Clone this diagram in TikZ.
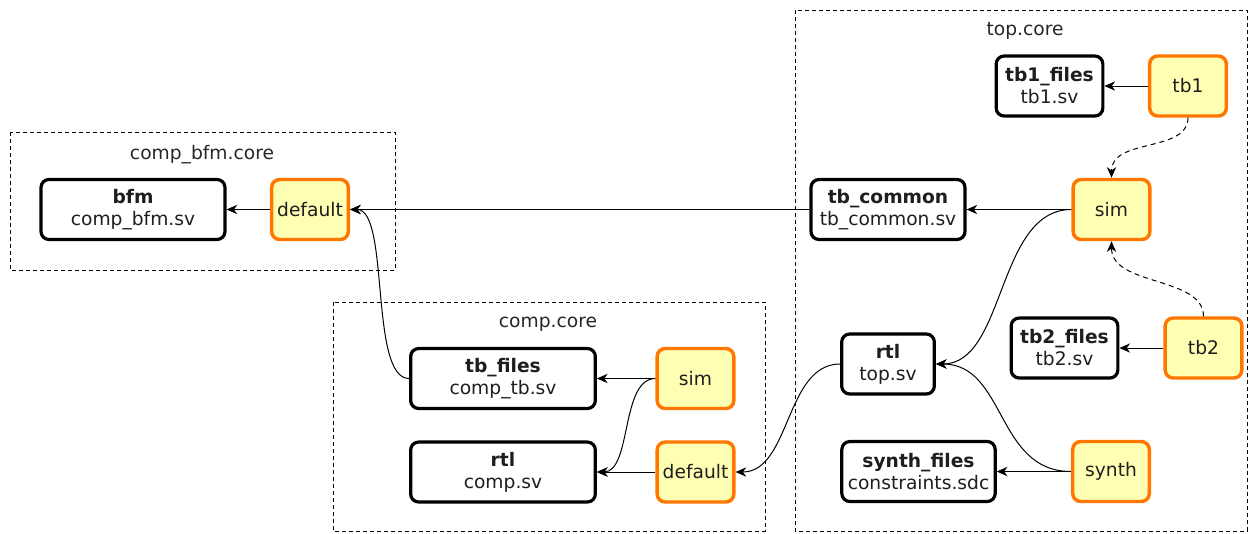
\documentclass[tikz,border=0pt]{standalone}
\usepackage{fontspec}
\setmainfont{DejaVu Sans}
\usetikzlibrary{arrows.meta}
\definecolor{orng}{RGB}{255,119,0}
\definecolor{ylw}{RGB}{255,255,180}
\definecolor{txt}{RGB}{30,30,30}
\tikzset{
 filebox/.style={draw=black, line width=2.4pt, rounded corners=6pt, fill=white, minimum height=45pt, align=center, inner sep=2pt, text=txt, font=\fontsize{14}{16.5}\selectfont},
 tgtbox/.style={draw=orng, fill=ylw, line width=2.6pt, rounded corners=6pt, minimum height=45pt, minimum width=57.5pt, inner sep=2pt, text=txt, font=\fontsize{14}{16.5}\selectfont},
 cluster/.style={draw=black, dash pattern=on 3pt off 2.25pt, line width=0.75pt},
 clabel/.style={font=\fontsize{14}{16}\selectfont, text=black!85},
 dep/.style={line width=0.75pt, -{Stealth[length=8pt,width=7pt,inset=2.5pt]}},
 virt/.style={dep, dash pattern=on 3.75pt off 3pt},
}
\begin{document}
\begin{tikzpicture}[x=0.75pt,y=-0.75pt]
\path[use as bounding box] (0,0) rectangle (1255,533);
% clusters
\draw[cluster] (795,10) rectangle (1247,531);
\node[clabel] (ltop) at (1025,31) {top.core};
\draw[cluster] (10,132) rectangle (395,270);
\node[clabel] (lbfm) at (202,155) {comp\_bfm.core};
\draw[cluster] (333,302) rectangle (765,531);
\node[clabel] (lcomp) at (548,324) {comp.core};
% top.core nodes
\node[filebox, minimum width=80pt] (tb1files) at (1049.5,86) {{\bfseries tb1\_files}\\tb1.sv};
\node[tgtbox] (tb1) at (1188,86) {tb1};
\node[filebox, minimum width=115.5pt] (tbcommon) at (888,209.5) {{\bfseries tb\_common}\\tb\_common.sv};
\node[tgtbox] (simT) at (1111.5,209.5) {sim};
\node[filebox, minimum width=80pt] (tb2files) at (1064.5,348) {{\bfseries tb2\_files}\\tb2.sv};
\node[tgtbox] (tb2) at (1203.5,348) {tb2};
\node[filebox, minimum width=69.5pt] (rtlT) at (888,364) {{\bfseries rtl}\\top.sv};
\node[filebox, minimum width=115pt] (synthfiles) at (918.5,471.5) {{\bfseries synth\_files}\\constraints.sdc};
\node[tgtbox] (synthT) at (1111,471.5) {synth};
% comp_bfm.core nodes
\node[filebox, minimum width=138pt] (bfm) at (133,209.5) {{\bfseries bfm}\\comp\_bfm.sv};
\node[tgtbox] (defB) at (310,209.5) {default};
% comp.core nodes
\node[filebox, minimum width=138.5pt] (tbfiles) at (503,378.5) {{\bfseries tb\_files}\\comp\_tb.sv};
\node[tgtbox] (simC) at (695.5,378.5) {sim};
\node[filebox, minimum width=138.5pt] (rtlC) at (503,472) {{\bfseries rtl}\\comp.sv};
\node[tgtbox] (defC) at (695.5,472) {default};
% edges
\draw[dep] (tb1.west) -- (tb1files.east);
\draw[virt] (tb1.south) .. controls +(0,35) and +(0,-40) .. (simT.north);
\draw[virt] (tb2.north) .. controls +(0,-40) and +(0,45) .. (simT.south);
\draw[dep] (simT.west) -- (tbcommon.east);
\draw[dep] (simT.west) .. controls +(-75,0) and +(70,0) .. (rtlT.east);
\draw[dep] (synthT.west) .. controls +(-75,0) and +(70,0) .. (rtlT.east);
\draw[dep] (synthT.west) -- (synthfiles.east);
\draw[dep] (tb2.west) -- (tb2files.east);
\draw[dep] (tbcommon.west) -- (defB.east);
\draw[dep] (defB.west) -- (bfm.east);
\draw[dep] (rtlT.west) .. controls +(-55,0) and +(55,0) .. (defC.east);
\draw[dep] (tbfiles.west) .. controls +(-40,0) and +(40,0) .. (defB.east);
\draw[dep] (simC.west) -- (tbfiles.east);
\draw[dep] (simC.west) .. controls +(-35,0) and +(35,0) .. (rtlC.east);
\draw[dep] (defC.west) -- (rtlC.east);
\end{tikzpicture}
\end{document}
